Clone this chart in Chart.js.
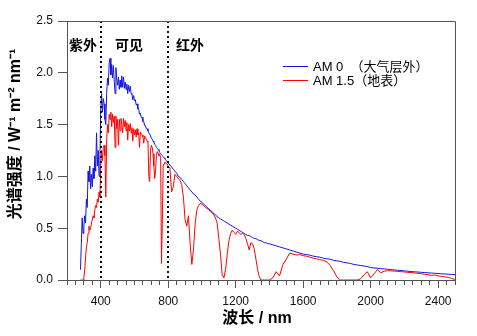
<!DOCTYPE html>
<html>
<head>
<meta charset="utf-8">
<script src="https://cdn.jsdelivr.net/npm/chart.js@4"></script>
<style>
  html, body { margin: 0; padding: 0; background: #fff; }
  #wrap { width: 477px; height: 336px; }
</style>
</head>
<body>
<div id="wrap"><canvas id="spectrum"></canvas></div>
<script>
// wavelength (nm)
const wavelengths = [
  280,285,290,295,300,305,310,315,320,325,
  330,335,340,345,350,355,360,365,370,375,
  380,385,390,395,400,405,410,415,420,425,
  430,435,440,445,450,455,460,465,470,475,
  480,485,490,495,500,505,510,515,520,525,
  530,535,540,545,550,555,560,565,570,575,
  580,585,590,595,600,605,610,615,620,625,
  630,635,640,645,650,655,660,665,670,675,
  680,685,690,695,700,705,710,715,720,725,
  730,735,740,745,750,755,760,765,770,775,
  780,785,790,795,800,
  810,820,830,840,850,860,870,880,890,900,
  910,920,930,940,950,960,970,980,990,1000,
  1010,1020,1030,1040,1050,1060,1070,1080,1090,1100,
  1110,1120,1130,1140,1150,1160,1170,1180,1190,1200,
  1210,1220,1230,1240,1250,1260,1270,1280,1290,1300,
  1310,1320,1330,1340,1350,1360,1370,1380,1390,1400,
  1420,1440,1460,1480,1500,1520,1540,1560,1580,1600,
  1620,1640,1660,1680,1700,1720,1740,1760,1780,1800,
  1820,1840,1860,1880,1900,1920,1940,1960,1980,2000,
  2020,2040,2060,2080,2100,2120,2140,2160,2180,2200,
  2220,2240,2260,2280,2300,2320,2340,2360,2380,2400,
  2420,2440,2460,2480,2500
];

// AM 0 (outside the atmosphere), W m-2 nm-1
const am0 = [
  0.10,0.35,0.60,0.45,0.52,0.62,0.55,0.78,0.70,1.05,
  0.95,1.10,0.88,1.02,0.90,1.08,0.98,1.20,1.05,1.42,
  1.10,1.25,1.00,1.15,1.65,1.80,1.62,1.75,1.70,1.55,
  1.50,1.80,1.95,1.88,2.10,2.14,1.98,2.08,1.95,2.07,
  1.92,1.80,2.05,1.94,1.88,1.96,1.84,1.93,1.86,1.97,
  1.86,1.96,1.85,1.91,1.84,1.89,1.80,1.88,1.82,1.87,
  1.80,1.79,1.74,1.78,1.73,1.74,1.69,1.70,1.65,1.65,
  1.60,1.61,1.57,1.57,1.53,1.53,1.49,1.49,1.46,1.46,
  1.44,1.42,1.41,1.39,1.37,1.36,1.34,1.33,1.31,1.30,
  1.28,1.27,1.26,1.25,1.23,1.22,1.21,1.20,1.19,1.18,
  1.17,1.16,1.15,1.14,1.13,
  1.11,1.09,1.07,1.05,1.03,1.00,0.99,0.97,0.95,0.93,
  0.91,0.89,0.87,0.85,0.83,0.82,0.80,0.78,0.76,0.75,
  0.73,0.72,0.70,0.69,0.67,0.66,0.64,0.63,0.61,0.60,
  0.59,0.58,0.57,0.56,0.55,0.54,0.53,0.52,0.51,0.50,
  0.49,0.48,0.47,0.46,0.45,0.44,0.43,0.43,0.42,0.41,
  0.40,0.40,0.39,0.38,0.38,0.37,0.36,0.36,0.35,0.35,
  0.34,0.33,0.32,0.31,0.30,0.29,0.28,0.27,0.26,0.25,
  0.245,0.24,0.23,0.225,0.22,0.21,0.205,0.20,0.19,0.185,
  0.18,0.17,0.165,0.16,0.15,0.145,0.14,0.135,0.13,0.12,
  0.117,0.113,0.11,0.107,0.104,0.10,0.097,0.094,0.091,0.088,
  0.085,0.082,0.079,0.077,0.074,0.072,0.069,0.067,0.065,0.063,
  0.06,0.058,0.056,0.054,0.052
];

// AM 1.5 (ground level)
const am15 = [
  0,0,0,0,0.02,0.10,0.22,0.32,0.36,0.45,
  0.52,0.48,0.50,0.55,0.58,0.62,0.60,0.68,0.72,0.70,
  0.78,0.75,0.85,0.80,1.10,1.25,1.15,1.28,1.30,1.20,
  0.80,1.35,1.50,1.42,1.60,1.55,1.62,1.48,1.60,1.52,
  1.58,1.28,1.58,1.46,1.55,1.30,1.55,1.44,1.56,1.50,
  1.42,1.56,1.48,1.54,1.44,1.52,1.35,1.50,1.44,1.51,
  1.42,1.47,1.34,1.46,1.40,1.45,1.38,1.46,1.40,1.42,
  1.28,1.43,1.41,1.40,1.38,1.32,1.39,1.37,1.36,1.34,
  1.33,1.00,0.95,1.25,1.30,1.28,1.22,1.10,0.98,1.05,
  1.20,1.24,1.22,1.20,1.21,1.18,0.16,0.55,1.10,1.12,
  1.14,1.13,1.12,1.12,1.10,
  1.08,0.85,0.90,1.02,1.00,0.98,0.96,0.92,0.80,0.58,
  0.52,0.62,0.35,0.15,0.30,0.55,0.68,0.72,0.74,0.73,
  0.72,0.70,0.69,0.68,0.66,0.65,0.63,0.60,0.55,0.40,
  0.25,0.05,0.02,0.10,0.25,0.38,0.45,0.48,0.46,0.44,
  0.47,0.46,0.44,0.45,0.44,0.40,0.35,0.29,0.36,0.35,
  0.30,0.20,0.10,0.03,0,0,0,0,0,0,
  0.02,0.08,0.04,0.15,0.20,0.26,0.25,0.24,0.245,0.235,
  0.23,0.22,0.21,0.205,0.195,0.19,0.175,0.14,0.09,0.03,
  0,0,0,0,0,0,0.01,0.05,0.08,0.02,
  0.06,0.10,0.07,0.085,0.09,0.088,0.086,0.083,0.08,0.078,
  0.074,0.072,0.068,0.065,0.06,0.056,0.05,0.045,0.048,0.04,
  0.035,0.03,0.025,0.015,0.005
];

const xMajorTicks = [400, 800, 1200, 1600, 2000, 2400];
const yTicks = [0, 0.5, 1.0, 1.5, 2.0, 2.5];
const bandEdges = [400, 800];
const bandLabels = ['紫外', '可见', '红外'];
const seriesNames = ['AM 0  （大气层外）', 'AM 1.5（地表）'];

const blue = 'rgb(20,20,225)';
const red = 'rgb(255,0,0)';
const axisColor = '#555';
const latin = "'Liberation Sans', Arial, 'Noto Sans CJK SC', sans-serif";
const cjk = "'Liberation Sans', 'Noto Sans CJK SC', sans-serif";

const decor = {
  id: 'decor',
  afterDatasetsDraw(chart) {
    const { ctx, chartArea: a, scales: { x } } = chart;
    ctx.save();
    // region boundaries
    ctx.strokeStyle = '#000';
    ctx.lineWidth = 2;
    ctx.setLineDash([2, 3]);
    bandEdges.forEach(v => {
      const px = Math.round(x.getPixelForValue(v));
      ctx.beginPath();
      ctx.moveTo(px, a.top);
      ctx.lineTo(px, a.bottom);
      ctx.stroke();
    });
    ctx.setLineDash([]);
    // top and right frame
    ctx.strokeStyle = axisColor;
    ctx.lineWidth = 1;
    ctx.beginPath();
    ctx.moveTo(a.left, a.top + 0.5);
    ctx.lineTo(a.right + 0.5, a.top + 0.5);
    ctx.lineTo(a.right + 0.5, a.bottom);
    ctx.stroke();

    // region names
    ctx.fillStyle = '#000';
    ctx.font = 'bold 14px ' + cjk;
    ctx.textBaseline = 'middle';
    ctx.textAlign = 'center';
    ctx.fillText(bandLabels[0], 83, 46);
    ctx.fillText(bandLabels[1], 129, 46);
    ctx.fillText(bandLabels[2], 190, 46);

    // legend
    ctx.textAlign = 'left';
    ctx.font = '13px ' + cjk;
    [[blue, 66], [red, 80]].forEach(([c, ly], i) => {
      ctx.strokeStyle = c;
      ctx.lineWidth = 1;
      ctx.beginPath();
      ctx.moveTo(283, ly + 0.5);
      ctx.lineTo(308, ly + 0.5);
      ctx.stroke();
      ctx.fillStyle = '#000';
      ctx.fillText(seriesNames[i], 313, ly + 1);
    });
    ctx.restore();
  },
  afterDraw(chart) {
    const { ctx } = chart;
    ctx.save();
    ctx.fillStyle = '#000';
    ctx.textBaseline = 'middle';
    ctx.textAlign = 'center';
    ctx.font = 'bold 16px ' + cjk;
    ctx.fillText('波长 / nm', 257, 319);
    ctx.translate(16, 134);
    ctx.rotate(-Math.PI / 2);
    ctx.fillText('光谱强度 / W⁻¹ m⁻² nm⁻¹', 0, 0);
    ctx.restore();
  }
};

new Chart(document.getElementById('spectrum').getContext('2d'), {
  type: 'line',
  data: {
    datasets: [{
      label: 'AM 1.5',
      data: wavelengths.map((w, i) => ({ x: w, y: am15[i] })),
      borderColor: red,
      borderWidth: 1,
      pointRadius: 0,
      tension: 0,
      order: 0
    }, {
      label: 'AM 0',
      data: wavelengths.map((w, i) => ({ x: w, y: am0[i] })),
      borderColor: blue,
      borderWidth: 1,
      pointRadius: 0,
      tension: 0,
      order: 1
    }]
  },
  options: {
    responsive: true,
    maintainAspectRatio: false,
    animation: false,
    layout: {
      padding: { left: 0, right: 22, top: 21, bottom: 0 }
    },
    scales: {
      x: {
        type: 'linear',
        min: 200,
        max: 2500,
        afterBuildTicks: axis => {
          const t = [];
          for (let v = 200; v <= 2500; v += 50) t.push({ value: v });
          axis.ticks = t;
        },
        afterFit: s => { s.height = 56; },
        border: { color: axisColor, width: 1 },
        grid: {
          drawOnChartArea: false,
          tickLength: 8,
          tickColor: axisColor,
          tickBorderDash: c => (c.tick && xMajorTicks.includes(c.tick.value)) ? [] : [4, 10]
        },
        ticks: {
          autoSkip: false,
          maxRotation: 0,
          padding: 6,
          color: '#111',
          font: { size: 12, family: latin },
          callback: v => xMajorTicks.includes(v) ? String(v) : ''
        }
      },
      y: {
        min: 0,
        max: 2.5,
        afterBuildTicks: axis => { axis.ticks = yTicks.map(v => ({ value: v })); },
        afterFit: s => { s.width = 67; },
        border: { color: axisColor, width: 1 },
        grid: {
          drawOnChartArea: false,
          tickLength: 9,
          tickColor: axisColor
        },
        ticks: {
          padding: 5,
          color: '#111',
          font: { size: 12, family: latin },
          callback: v => v.toFixed(1)
        }
      }
    },
    plugins: {
      legend: { display: false },
      tooltip: { enabled: false }
    }
  },
  plugins: [decor]
});
</script>
</body>
</html>
